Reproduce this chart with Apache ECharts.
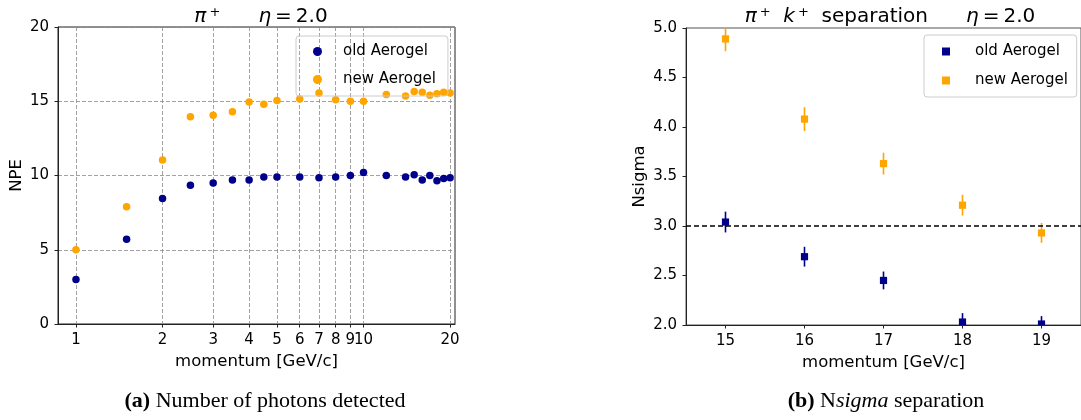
<!DOCTYPE html>
<html>
<head>
<meta charset="utf-8">
<script src="https://cdn.jsdelivr.net/npm/echarts@6/dist/echarts.min.js"></script>
<style>
  html, body { margin: 0; padding: 0; background: #fff; }
  #main { width: 1081px; height: 420px; }
</style>
</head>
<body>
<div id="main"></div>
<script>
// (a) photons detected vs momentum
var momentum = [1, 1.5, 2, 2.5, 3, 3.5, 4, 4.5, 5, 6, 7, 8, 9, 10, 12, 14, 15, 16, 17, 18, 19, 20];
var npeOld = [3.0, 5.7, 8.45, 9.35, 9.5, 9.7, 9.7, 9.9, 9.9, 9.9, 9.85, 9.9, 10.0, 10.2, 10.0, 9.9, 10.05, 9.7, 10.0, 9.65, 9.8, 9.85];
var npeNew = [5.0, 7.9, 11.05, 13.95, 14.05, 14.3, 14.95, 14.8, 15.05, 15.15, 15.55, 15.1, 15.0, 15.0, 15.45, 15.35, 15.65, 15.6, 15.4, 15.5, 15.6, 15.55];
var momentumTicks = [1, 2, 3, 4, 5, 6, 7, 8, 9, 10, 20];

// (b) Nsigma separation
var sepMomentum = [15, 16, 17, 18, 19];
var sepOld = [3.04, 2.69, 2.45, 2.03, 2.01];
var errOld = [0.105, 0.1, 0.09, 0.09, 0.08];
var sepNew = [4.89, 4.08, 3.63, 3.21, 2.93];
var errNew = [0.125, 0.12, 0.11, 0.105, 0.1];
var sepTicks = [15, 16, 17, 18, 19];

var OLD = '#00008b', NEW = '#ffa500';
var FONT = 'DejaVu Sans';

function zip(xs, ys, es) {
    return xs.map(function (x, i) { return es ? [x, ys[i], es[i]] : [x, ys[i]]; });
}

// 误差棒 + 方块
function renderErr(params, api) {
    var cs = params.coordSys;
    var x = api.value(0), y = api.value(1), e = api.value(2);
    var c = api.coord([x, y]);
    var hi = api.coord([x, y + e]);
    var lo = api.coord([x, y - e]);
    var color = api.visual('color');
    var box = { x: cs.x, y: cs.y, width: cs.width, height: cs.height };
    var children = [{
        type: 'line',
        shape: { x1: c[0], y1: Math.max(hi[1], cs.y), x2: c[0], y2: Math.min(lo[1], cs.y + cs.height) },
        style: { stroke: color, lineWidth: 1.6 }
    }];
    var sq = echarts.graphic.clipRectByRect({ x: c[0] - 3.6, y: c[1] - 3.6, width: 7.2, height: 7.2 }, box);
    if (sq) children.push({ type: 'rect', shape: sq, style: { fill: color } });
    return { type: 'group', children: children };
}

var axisCommon = {
    axisLine: { show: true, lineStyle: { color: '#222', width: 1 } },
    axisTick: { show: true, inside: false, length: 3.5, lineStyle: { color: '#222', width: 1 } },
    nameTextStyle: { fontFamily: FONT, fontSize: 16.5, color: '#000' }
};
var labelCommon = { fontFamily: FONT, fontSize: 15, color: '#000' };
var dashed = { show: true, lineStyle: { color: '#8a8a8a', width: 0.8, type: [4, 2] } };

var titleRich = {
    i: { fontFamily: FONT, fontSize: 20, fontStyle: 'italic', color: '#000' },
    s: { fontFamily: FONT, fontSize: 13, color: '#000', verticalAlign: 'top', padding: [0, 0, 8, 3] }
};

var option = {
    backgroundColor: '#fff',
    animation: false,
    title: [{
        left: 256, top: 1, textAlign: 'center',
        text: '{i|π}{s|+}      {i|η}\u2009=\u20092.0',
        textStyle: { fontFamily: FONT, fontSize: 20, fontWeight: 'normal', color: '#000', rich: titleRich }
    }, {
        left: 885, top: 1, textAlign: 'center',
        text: '{i|π}{s|+}  {i|k}{s|+}  separation      {i|η}\u2009=\u20092.0',
        textStyle: { fontFamily: FONT, fontSize: 20, fontWeight: 'normal', color: '#000', rich: titleRich }
    }, {
        left: 260, top: 385, textAlign: 'center',
        text: '{b|(a)} Number of photons detected',
        textStyle: {
            fontFamily: 'Liberation Serif', fontSize: 22, fontWeight: 'normal', color: '#000',
            rich: { b: { fontFamily: 'Liberation Serif', fontSize: 22, fontWeight: 'bold', color: '#000' } }
        }
    }, {
        left: 881, top: 385, textAlign: 'center',
        text: '{b|(b)} N{i|sigma} separation',
        textStyle: {
            fontFamily: 'Liberation Serif', fontSize: 22, fontWeight: 'normal', color: '#000',
            rich: {
                b: { fontFamily: 'Liberation Serif', fontSize: 22, fontWeight: 'bold', color: '#000' },
                i: { fontFamily: 'Liberation Serif', fontSize: 22, fontStyle: 'italic', color: '#000' }
            }
        }
    }],
    legend: [{
        orient: 'vertical', left: 296, top: 36,
        data: [{ name: 'old Aerogel', icon: 'circle' }, { name: 'new Aerogel', icon: 'circle' }],
        itemWidth: 9, itemHeight: 9, itemGap: 13,
        padding: [8, 12, 9, 17],
        borderColor: '#ccc', borderWidth: 1, borderRadius: 3,
        textStyle: { fontFamily: FONT, fontSize: 15, color: '#000', padding: [0, 0, 0, 16] }
    }, {
        orient: 'vertical', left: 924, top: 35,
        data: [{ name: 'old Aerogel ', icon: 'rect' }, { name: 'new Aerogel ', icon: 'rect' }],
        itemWidth: 8, itemHeight: 8, itemGap: 14,
        padding: [9, 4, 9, 18],
        borderColor: '#ccc', borderWidth: 1, borderRadius: 3,
        textStyle: { fontFamily: FONT, fontSize: 15, color: '#000', padding: [0, 0, 0, 20] }
    }],
    grid: [
        { left: 58, top: 27, width: 397, height: 297, show: true, borderColor: '#222', borderWidth: 1 },
        { left: 686, top: 28, width: 399, height: 297, show: true, borderColor: '#555', borderWidth: 1 }
    ],
    xAxis: [Object.assign({}, axisCommon, {
        gridIndex: 0, type: 'log', logBase: 10, min: 0.866, max: 20.8,
        name: 'momentum [GeV/c]', nameLocation: 'middle', nameGap: 27,
        axisTick: Object.assign({}, axisCommon.axisTick, { customValues: momentumTicks }),
        axisLabel: Object.assign({}, labelCommon, { customValues: momentumTicks, margin: 9 }),
        splitLine: dashed, minorTick: { show: false }, minorSplitLine: { show: false }
    }), Object.assign({}, axisCommon, {
        gridIndex: 1, type: 'value', min: 14.5, max: 19.5,
        name: 'momentum [GeV/c]', nameLocation: 'middle', nameGap: 26,
        axisTick: Object.assign({}, axisCommon.axisTick, { customValues: sepTicks }),
        axisLabel: Object.assign({}, labelCommon, { customValues: sepTicks, margin: 9 }),
        splitLine: { show: false }
    })],
    yAxis: [Object.assign({}, axisCommon, {
        gridIndex: 0, type: 'value', min: 0, max: 20, interval: 5,
        name: 'NPE', nameLocation: 'middle', nameGap: 33,
        axisLabel: Object.assign({}, labelCommon, { margin: 9 }),
        splitLine: dashed
    }), Object.assign({}, axisCommon, {
        gridIndex: 1, type: 'value', min: 2, max: 5, interval: 0.5,
        name: 'Nsigma', nameLocation: 'middle', nameGap: 38,
        axisLabel: Object.assign({}, labelCommon, { margin: 9, formatter: function (v) { return v.toFixed(1); } }),
        splitLine: { show: false }
    })],
    series: [{
        name: 'old Aerogel', type: 'scatter', xAxisIndex: 0, yAxisIndex: 0,
        symbol: 'circle', symbolSize: 7.5, itemStyle: { color: OLD, opacity: 1 },
        data: zip(momentum, npeOld)
    }, {
        name: 'new Aerogel', type: 'scatter', xAxisIndex: 0, yAxisIndex: 0,
        symbol: 'circle', symbolSize: 7.5, itemStyle: { color: NEW, opacity: 1 },
        data: zip(momentum, npeNew)
    }, {
        name: 'old Aerogel ', type: 'custom', xAxisIndex: 1, yAxisIndex: 1,
        itemStyle: { color: OLD }, renderItem: renderErr,
        encode: { x: 0, y: 1 },
        data: zip(sepMomentum, sepOld, errOld),
        markLine: {
            silent: true, symbol: 'none', label: { show: false },
            lineStyle: { color: '#000', width: 1.5, type: [5, 3] },
            data: [{ yAxis: 3 }]
        }
    }, {
        name: 'new Aerogel ', type: 'custom', xAxisIndex: 1, yAxisIndex: 1,
        itemStyle: { color: NEW }, renderItem: renderErr,
        encode: { x: 0, y: 1 },
        data: zip(sepMomentum, sepNew, errNew)
    }]
};

var chart = echarts.init(document.getElementById('main'));
chart.setOption(option);
</script>
</body>
</html>
